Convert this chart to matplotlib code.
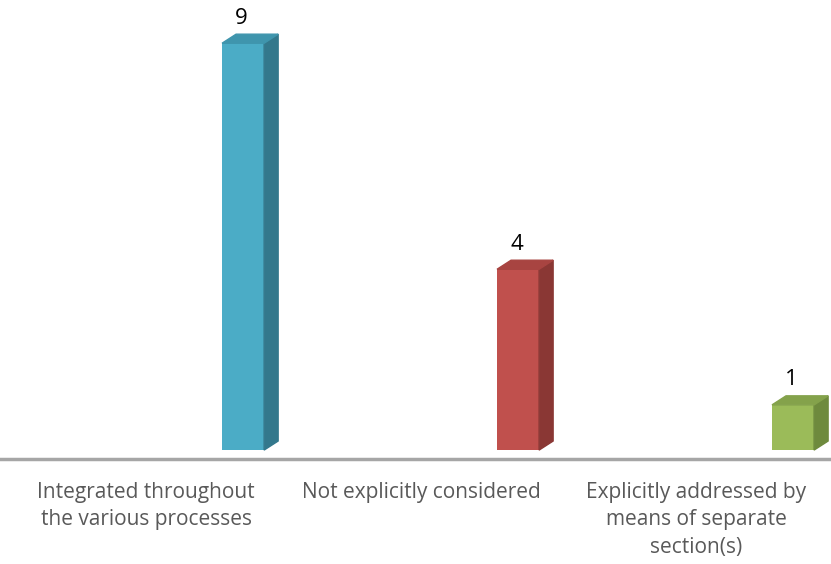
import matplotlib.pyplot as plt
from matplotlib.patches import Polygon

categories = ["Integrated throughout\nthe various processes",
              "Not explicitly considered",
              "Explicitly addressed by\nmeans of separate\nsection(s)"]
values = [9, 4, 1]
front_colors = ["#4BACC6", "#C0504D", "#9BBB59"]
side_colors = ["#33788C", "#8A3734", "#6E8A3D"]
top_colors = ["#3F95AD", "#A84441", "#84A24B"]

plt.rcParams['font.family'] = ['Open Sans', 'DejaVu Sans']

fig = plt.figure(figsize=(8.31, 5.64), dpi=100)
ax = fig.add_axes([0, 0, 1, 1])
ax.set_xlim(-0.531, 2.491)
ax.set_ylim(-2.52, 9.956)
ax.axis("off")

offset = 0.353   # bars sit right of the category slot centre
width = 0.153
dx = 0.051       # 3d depth
dy = 0.2

for i, (v, fc, sc, tc) in enumerate(zip(values, front_colors, side_colors, top_colors)):
    x0 = i + offset - width / 2
    x1 = x0 + width
    ax.bar(x0, v, width=width, align="edge", color=fc, zorder=3)
    ax.add_patch(Polygon([(x1, 0), (x1 + dx, dy), (x1 + dx, v + dy), (x1, v)],
                         closed=True, color=sc, zorder=3))
    ax.add_patch(Polygon([(x0, v), (x0 + dx, v + dy), (x1 + dx, v + dy), (x1, v)],
                         closed=True, color=tc, zorder=3))
    ax.text(i + offset - 0.005, v + dy + 0.12, str(v), ha="center", va="bottom",
            fontsize=16, color="black")

# floor line
ax.axhline(-0.2, color="#A6A6A6", lw=2.5, zorder=2)

for i, lab in enumerate(categories):
    ax.text(i, -0.7, lab, ha="center", va="top", fontsize=15,
            color="#595959", linespacing=1.42)

fig.savefig("out.png", dpi=100)
